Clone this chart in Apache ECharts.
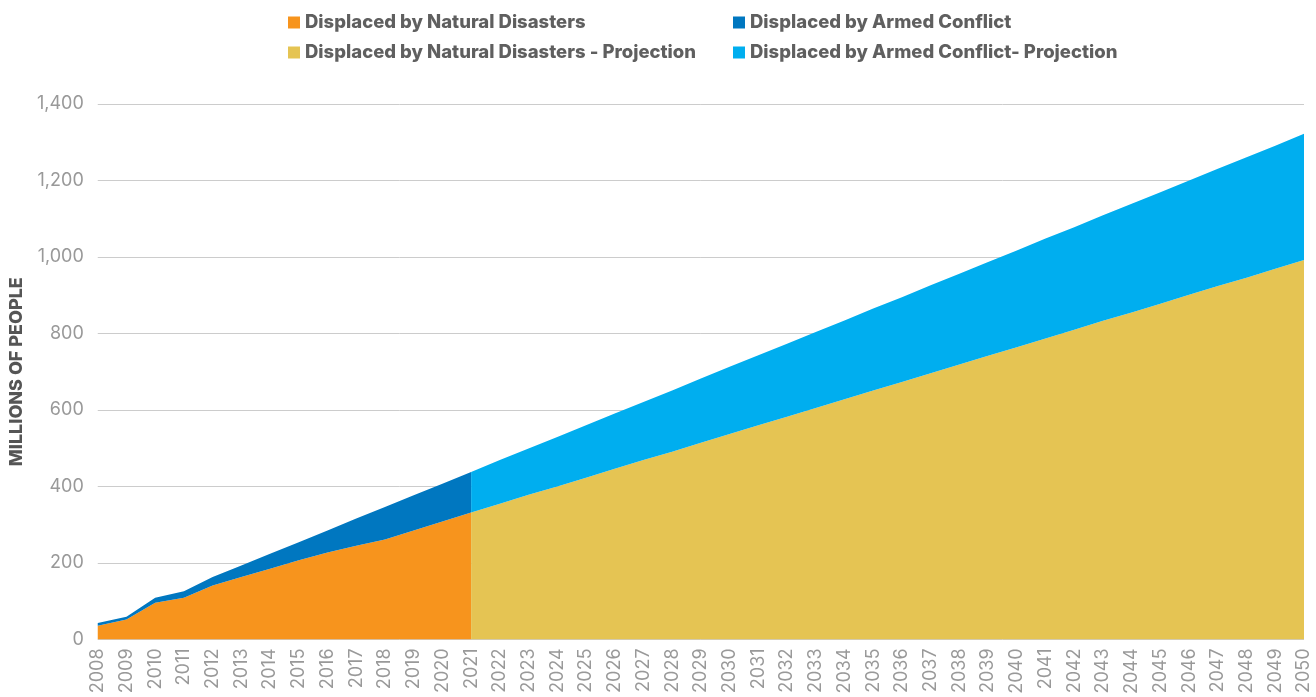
<!DOCTYPE html>
<html>
<head>
<meta charset="utf-8">
<script src="https://cdn.jsdelivr.net/npm/echarts@6/dist/echarts.min.js"></script>
<style>html,body{margin:0;padding:0;background:#fff}#c{width:1316px;height:697px}</style>
</head>
<body>
<div id="c"></div>
<script>
const years = [];
for (let y = 2008; y <= 2050; y++) years.push(String(y));

// Historical (2008–2021)
const naturalHist = [36, 52, 96, 109, 141, 163, 185, 207, 227, 245, 261, 285, 308, 332];
const conflictHist = [7, 7, 13, 17, 22, 30, 39, 47, 58, 71, 85, 92, 99, 106];
// Projection (2021–2050)
const naturalProj = [332, 355, 378, 400, 423, 446, 469, 491, 514, 537, 560, 582, 605, 628, 651,
  673, 696, 719, 742, 764, 787, 810, 833, 855, 878, 901, 924, 946, 969, 992];
const conflictProj = [106, 114, 121, 129, 137, 145, 152, 160, 168, 176, 183, 191, 199, 206, 214,
  222, 230, 237, 245, 253, 261, 268, 276, 284, 291, 299, 307, 315, 322, 330];

const yTicks = [0, 200, 400, 600, 800, 1000, 1200, 1400];

const nHist = naturalHist.length;
const pad = (arr, before, total) => {
  const out = [];
  for (let i = 0; i < before; i++) out.push('-');
  arr.forEach(v => out.push(v));
  while (out.length < total) out.push('-');
  return out;
};
const N = years.length;
const projStart = nHist - 1;

const names = {
  nh: 'Displaced by Natural Disasters',
  ch: 'Displaced by Armed Conflict',
  np: 'Displaced by Natural Disasters - Projection',
  cp: 'Displaced by Armed Conflict- Projection'
};
const colors = { nh: '#F7941D', ch: '#0077C0', np: '#E5C453', cp: '#00AEEF' };

const area = (key, data, stack) => ({
  name: names[key], type: 'line', stack: stack, data: data,
  symbol: 'none', showSymbol: false, smooth: false,
  lineStyle: { width: 0 }, itemStyle: { color: colors[key] },
  areaStyle: { color: colors[key], opacity: 1 },
  emphasis: { disabled: true }
});

const legendText = { color: '#5f5f5f', fontSize: 18.5, fontWeight: 800, fontFamily: 'Inter' };

const chart = echarts.init(document.getElementById('c'));
chart.setOption({
  animation: false,
  legend: [
    { left: 283, top: 8, orient: 'vertical', itemGap: 11, itemWidth: 12, itemHeight: 12, icon: 'rect',
      data: [names.nh, names.np], textStyle: legendText, selectedMode: false },
    { left: 728, top: 8, orient: 'vertical', itemGap: 11, itemWidth: 12, itemHeight: 12, icon: 'rect',
      data: [names.ch, names.cp], textStyle: legendText, selectedMode: false }
  ],
  grid: { left: 96, right: 12, top: 104, bottom: 57 },
  xAxis: {
    type: 'category', data: years, boundaryGap: false,
    axisLine: { show: false }, axisTick: { show: false },
    axisLabel: { rotate: 90, interval: 0, color: '#999', fontSize: 18, fontFamily: 'Inter', margin: 9 }
  },
  yAxis: {
    type: 'value', min: yTicks[0], max: yTicks[yTicks.length - 1], interval: 200,
    name: 'MILLIONS OF PEOPLE', nameLocation: 'middle', nameGap: 66, nameRotate: 90,
    nameTextStyle: { color: '#555', fontSize: 18, fontWeight: 800, fontFamily: 'Inter' },
    axisLine: { show: false }, axisTick: { show: false },
    axisLabel: { color: '#999', fontSize: 18, fontFamily: 'Inter', margin: 14,
      formatter: v => v.toLocaleString('en-US') },
    splitLine: { lineStyle: { color: '#ccc', width: 1 } }
  },
  series: [
    area('nh', pad(naturalHist, 0, N), 'hist'),
    area('ch', pad(conflictHist, 0, N), 'hist'),
    area('np', pad(naturalProj, projStart, N), 'proj'),
    area('cp', pad(conflictProj, projStart, N), 'proj')
  ]
});
</script>
</body>
</html>
